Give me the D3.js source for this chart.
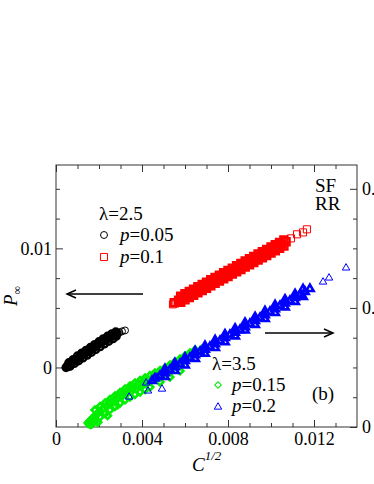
<!DOCTYPE html>
<html>
<head>
<meta charset="utf-8">
<script src="https://cdn.jsdelivr.net/npm/d3@7"></script>
<style>
  body { margin: 0; background: #fff; }
  svg { display: block; }
  text { font-family: "Liberation Serif", "DejaVu Serif", serif; fill: #000; }
</style>
</head>
<body>
<script>
// ---- data ----
// lambda = 2.5, left axis; the dense part of each run and its few loose points
var blackDense = [
  [0.00047,0.00000],[0.00052,0.00008],[0.00056,0.00017],[0.00064,0.00029],[0.00074,0.00042],
  [0.00084,0.00054],[0.00093,0.00065],[0.00102,0.00076],[0.00112,0.00088],[0.00121,0.00100],
  [0.00130,0.00111],[0.00140,0.00123],[0.00149,0.00134],[0.00158,0.00146],[0.00167,0.00157],
  [0.00177,0.00169],[0.00186,0.00181],[0.00195,0.00193],[0.00205,0.00203],[0.00214,0.00214],
  [0.00223,0.00224],[0.00233,0.00234],[0.00242,0.00244],[0.00251,0.00253],[0.00260,0.00262],
  [0.00268,0.00270],[0.00276,0.00278],[0.00284,0.00286],
  [0.00060,0.00040],[0.00080,0.00066],[0.00100,0.00096],[0.00120,0.00120],[0.00140,0.00144],
  [0.00160,0.00168],[0.00180,0.00192],[0.00200,0.00216],[0.00220,0.00240],[0.00240,0.00262],
  [0.00260,0.00282],[0.00278,0.00298],
  [0.00065,0.00010],[0.00085,0.00034],[0.00105,0.00056],[0.00125,0.00080],[0.00145,0.00104],
  [0.00165,0.00128],[0.00185,0.00152],[0.00205,0.00175],[0.00225,0.00198],[0.00245,0.00220],
  [0.00265,0.00242],[0.00280,0.00262]
];
var blackSparse = [[0.00295,0.00294],[0.00307,0.00303],[0.00321,0.00311]];

var redDense = [
  [0.00550,0.00544],[0.00570,0.00564],[0.00590,0.00583],[0.00610,0.00603],
  [0.00630,0.00623],[0.00650,0.00642],[0.00670,0.00662],[0.00690,0.00682],[0.00710,0.00701],
  [0.00730,0.00721],[0.00750,0.00741],[0.00770,0.00760],[0.00790,0.00780],[0.00810,0.00800],
  [0.00830,0.00819],[0.00850,0.00839],[0.00870,0.00859],[0.00890,0.00878],[0.00910,0.00898],
  [0.00930,0.00918],[0.00950,0.00937],[0.00970,0.00957],[0.00990,0.00977],[0.01010,0.00996],
  [0.01030,0.01016],[0.01050,0.01036],[0.01070,0.01055],
  [0.00580,0.00598],[0.00620,0.00638],[0.00660,0.00677],[0.00700,0.00716],[0.00740,0.00756],
  [0.00780,0.00795],[0.00820,0.00834],[0.00860,0.00873],[0.00900,0.00913],[0.00940,0.00952],
  [0.00980,0.00991],[0.01020,0.01030],[0.01060,0.01070],
  [0.00600,0.00618],[0.00640,0.00657],[0.00680,0.00697],[0.00720,0.00736],[0.00760,0.00775],
  [0.00800,0.00814],[0.00840,0.00854],[0.00880,0.00893],[0.00920,0.00932],[0.00960,0.00972],
  [0.01000,0.01011],[0.01040,0.01050],
  [0.00580,0.00548],[0.00620,0.00588],[0.00660,0.00627],[0.00700,0.00666],[0.00740,0.00706],
  [0.00780,0.00745],[0.00820,0.00784],[0.00860,0.00823],[0.00900,0.00863],[0.00940,0.00902],
  [0.00980,0.00941],[0.01020,0.00980],[0.01060,0.01020],
  [0.00600,0.00568],[0.00640,0.00607],[0.00680,0.00647],[0.00720,0.00686],[0.00760,0.00725],
  [0.00800,0.00764],[0.00840,0.00804],[0.00880,0.00843],[0.00920,0.00882],[0.00960,0.00922],
  [0.01000,0.00961],[0.01040,0.01000]
];
var redSparse = [
  [0.00544,0.00530],[0.00560,0.00548],
  [0.01093,0.01084],[0.01121,0.01118],[0.01149,0.01134],[0.01167,0.01160]
];

// lambda = 3.5, right axis
var greenDense = [
  [0.00149,0.0034],[0.00167,0.0067],[0.00186,0.0101],[0.00205,0.0134],[0.00233,0.0176],
  [0.00260,0.0218],[0.00288,0.0252],[0.00316,0.0286],[0.00344,0.0319],[0.00372,0.0345],
  [0.00400,0.0370],[0.00428,0.0395],[0.00465,0.0429],[0.00502,0.0462],[0.00540,0.0504],
  [0.00577,0.0546],[0.00614,0.0588],[0.00651,0.0630],[0.00679,0.0655],
  [0.00158,0.0050],[0.00176,0.0084],[0.00195,0.0117],[0.00219,0.0155],[0.00246,0.0197],
  [0.00274,0.0235],[0.00302,0.0269],[0.00330,0.0302],[0.00358,0.0332],[0.00386,0.0357],
  [0.00414,0.0382],[0.00446,0.0412],[0.00484,0.0445],[0.00521,0.0483],[0.00558,0.0525],
  [0.00596,0.0567],[0.00633,0.0609],
  [0.00181,0.0143],[0.00228,0.0202],[0.00274,0.0261],[0.00321,0.0319],[0.00367,0.0370],
  [0.00414,0.0412],[0.00460,0.0454],[0.00507,0.0496],[0.00553,0.0546],[0.00600,0.0597],
  [0.00647,0.0647],
  [0.00205,0.0172],[0.00251,0.0231],[0.00298,0.0290],[0.00344,0.0345],[0.00391,0.0391],
  [0.00437,0.0433],[0.00484,0.0475],[0.00530,0.0521],[0.00577,0.0571],[0.00623,0.0622],
  [0.00167,0.0025],[0.00205,0.0084],[0.00251,0.0143],[0.00298,0.0202],[0.00344,0.0252],
  [0.00391,0.0294],[0.00437,0.0336],[0.00484,0.0378],[0.00530,0.0420],[0.00577,0.0471],
  [0.00186,0.0055],[0.00228,0.0113],[0.00274,0.0172],[0.00321,0.0227],[0.00367,0.0273],
  [0.00414,0.0315],[0.00160,0.0020],[0.00195,0.0040],[0.00240,0.0095]
];
var greenSparse = [[0.00274,0.0168],[0.00288,0.0176],[0.00150,0.0020]];

var blueDense = [
  [0.00447,0.0387],[0.00484,0.0429],[0.00530,0.0479],[0.00577,0.0529],[0.00623,0.0580],
  [0.00670,0.0630],[0.00716,0.0672],[0.00763,0.0723],[0.00809,0.0773],[0.00856,0.0815],
  [0.00902,0.0866],[0.00949,0.0916],[0.00995,0.0966],[0.01042,0.1017],[0.01088,0.1059],
  [0.01135,0.1109],[0.01181,0.1160],
  [0.00460,0.0408],[0.00507,0.0454],[0.00553,0.0504],[0.00600,0.0555],[0.00647,0.0605],
  [0.00693,0.0651],[0.00740,0.0697],[0.00786,0.0748],[0.00833,0.0794],[0.00879,0.0840],
  [0.00926,0.0891],[0.00972,0.0941],[0.01019,0.0991],[0.01065,0.1038],[0.01112,0.1084],
  [0.01158,0.1135],
  [0.00507,0.0485],[0.00553,0.0536],[0.00600,0.0582],[0.00647,0.0637],[0.00693,0.0680],
  [0.00740,0.0729],[0.00786,0.0777],[0.00833,0.0826],[0.00879,0.0875],[0.00926,0.0923],
  [0.00972,0.0972],[0.01019,0.1023],[0.01065,0.1070],[0.01112,0.1116],[0.01149,0.1157],
  [0.00507,0.0421],[0.00553,0.0472],[0.00600,0.0518],[0.00647,0.0573],[0.00693,0.0616],
  [0.00740,0.0665],[0.00786,0.0713],[0.00833,0.0762],[0.00879,0.0811],[0.00926,0.0859],
  [0.00972,0.0908],[0.01019,0.0959],[0.01065,0.1006],[0.01112,0.1052],[0.01149,0.1093]
];
var blueSparse = [
  [0.00340,0.0252],[0.00419,0.0370],[0.00428,0.0303],[0.00470,0.0420],[0.00493,0.0319],
  [0.01242,0.1218],[0.01270,0.1252],[0.01349,0.1336]
];

var xMajor = [0, 0.004, 0.008, 0.012];
var xLabels = ["0", "0.004", "0.008", "0.012"];
var xMinor = [0.001, 0.002, 0.003, 0.005, 0.006, 0.007, 0.009, 0.010, 0.011, 0.013];
var yLeftMajor = [0, 0.01];
var yLeftLabels = ["0", "0.01"];
var yLeftMinor = [-0.0025, 0.0025, 0.005, 0.0075, 0.0125, 0.015];
var yRightMajor = [0, 0.1, 0.2];
var yRightLabels = ["0", "0.1", "0.2"];
var yRightMinor = [0.025, 0.05, 0.075, 0.125, 0.15, 0.175];

// ---- layout ----
var w = 374, h = 484;
var frame = { left: 56, right: 357, top: 165, bottom: 427 };
var axisColor = "#333";

var xScale = d3.scaleLinear().domain([0, 0.014]).range([frame.left, frame.right]);
var yLeft = d3.scaleLinear().domain([-0.005, 0.017]).range([frame.bottom, frame.top]);
var yRight = d3.scaleLinear().domain([0, 0.22]).range([frame.bottom, frame.top]);

var svg = d3.select("body").append("svg")
  .attr("width", w)
  .attr("height", h);

svg.append("rect").attr("width", w).attr("height", h).attr("fill", "#fff");

// axes, ticks pointing inward
function styleAxis(g) {
  g.select(".domain").remove();
  g.selectAll(".tick line").attr("stroke", axisColor);
  g.selectAll(".tick text")
    .style("font-family", "'Liberation Serif', serif")
    .style("font-size", "18px")
    .attr("fill", "#000");
}

svg.append("g").attr("transform", "translate(0," + frame.bottom + ")")
  .call(d3.axisBottom(xScale).tickValues(xMajor).tickSizeInner(-7).tickSizeOuter(0)
    .tickPadding(5).tickFormat(function(d, i) { return xLabels[i]; }))
  .call(styleAxis);
svg.append("g").attr("transform", "translate(0," + frame.bottom + ")")
  .call(d3.axisBottom(xScale).tickValues(xMinor).tickSizeInner(-4).tickSizeOuter(0).tickFormat(""))
  .call(styleAxis);
svg.append("g").attr("transform", "translate(0," + frame.top + ")")
  .call(d3.axisTop(xScale).tickValues(xMajor).tickSizeInner(-7).tickSizeOuter(0).tickFormat(""))
  .call(styleAxis);
svg.append("g").attr("transform", "translate(0," + frame.top + ")")
  .call(d3.axisTop(xScale).tickValues(xMinor).tickSizeInner(-4).tickSizeOuter(0).tickFormat(""))
  .call(styleAxis);

svg.append("g").attr("transform", "translate(" + frame.left + ",0)")
  .call(d3.axisLeft(yLeft).tickValues(yLeftMajor).tickSizeInner(-7).tickSizeOuter(0)
    .tickPadding(4).tickFormat(function(d, i) { return yLeftLabels[i]; }))
  .call(styleAxis);
svg.append("g").attr("transform", "translate(" + frame.left + ",0)")
  .call(d3.axisLeft(yLeft).tickValues(yLeftMinor).tickSizeInner(-4).tickSizeOuter(0).tickFormat(""))
  .call(styleAxis);

svg.append("g").attr("transform", "translate(" + frame.right + ",0)")
  .call(d3.axisRight(yRight).tickValues(yRightMajor).tickSizeInner(-7).tickSizeOuter(0)
    .tickPadding(5).tickFormat(function(d, i) { return yRightLabels[i]; }))
  .call(styleAxis);
svg.append("g").attr("transform", "translate(" + frame.right + ",0)")
  .call(d3.axisRight(yRight).tickValues(yRightMinor).tickSizeInner(-4).tickSizeOuter(0).tickFormat(""))
  .call(styleAxis);

svg.append("rect")
  .attr("x", frame.left).attr("y", frame.top)
  .attr("width", frame.right - frame.left).attr("height", frame.bottom - frame.top)
  .attr("fill", "none").attr("stroke", axisColor).attr("stroke-width", 1);

// ---- markers ----
var circleSym = d3.symbol().type(d3.symbolCircle).size(38)();
var squareSym = d3.symbol().type(d3.symbolSquare).size(50)();
var diamondSym = d3.symbol().type(d3.symbolSquare).size(22)();
var triangleSym = d3.symbol().type(d3.symbolTriangle).size(24)();

function drawSeries(data, yScale, path, color, rot, sw) {
  svg.append("g").selectAll("path")
    .data(data)
    .enter()
    .append("path")
    .attr("d", path)
    .attr("transform", function(d) {
      return "translate(" + xScale(d[0]) + "," + yScale(d[1]) + ")" + (rot ? " rotate(45)" : "");
    })
    .attr("fill", "none")
    .attr("stroke", color)
    .attr("stroke-width", sw);
}

// the dense runs are thousands of overlapping markers: heavier strokes stand in for that
drawSeries(blackDense, yLeft, circleSym, "#000", false, 2.4);
drawSeries(blackSparse, yLeft, circleSym, "#000", false, 1);
drawSeries(redDense, yLeft, squareSym, "#ff0000", false, 2.4);
drawSeries(redSparse, yLeft, squareSym, "#ff0000", false, 1);
drawSeries(greenDense, yRight, diamondSym, "#00ee00", true, 2.6);
drawSeries(greenSparse, yRight, diamondSym, "#00ee00", true, 1);
drawSeries(blueDense, yRight, triangleSym, "#0000ff", false, 2.6);
drawSeries(blueSparse, yRight, triangleSym, "#0000ff", false, 1);

// ---- arrows ----
function arrow(x1, x2, y) {
  var dir = x2 > x1 ? 1 : -1;
  svg.append("line").attr("x1", x1).attr("x2", x2).attr("y1", y).attr("y2", y)
    .attr("stroke", "#000").attr("stroke-width", 1.5);
  svg.append("path")
    .attr("d", "M" + (x2 - dir * 9) + "," + (y - 4) + "L" + x2 + "," + y + "L" + (x2 - dir * 9) + "," + (y + 4))
    .attr("fill", "none").attr("stroke", "#000").attr("stroke-width", 1.5);
}
arrow(143, 67, 294);
arrow(265, 333, 333);

// ---- legends and labels ----
function legendText(x, y, value) {
  var t = svg.append("text").attr("x", x).attr("y", y).style("font-size", "19px");
  t.append("tspan").style("font-style", "italic").text("p");
  t.append("tspan").text("=" + value);
}

svg.append("text").attr("x", 99).attr("y", 220).style("font-size", "19px").text("λ=2.5");
svg.append("path").attr("d", circleSym).attr("transform", "translate(104,235)")
  .attr("fill", "none").attr("stroke", "#000");
legendText(120, 241, "0.05");
svg.append("path").attr("d", squareSym).attr("transform", "translate(104,257)")
  .attr("fill", "none").attr("stroke", "#ff0000");
legendText(120, 263, "0.1");

svg.append("text").attr("x", 212).attr("y", 370).style("font-size", "19px").text("λ=3.5");
svg.append("path").attr("d", diamondSym).attr("transform", "translate(218,385) rotate(45)")
  .attr("fill", "none").attr("stroke", "#00ee00");
legendText(232, 391, "0.15");
svg.append("path").attr("d", triangleSym).attr("transform", "translate(218,407)")
  .attr("fill", "none").attr("stroke", "#0000ff");
legendText(232, 412, "0.2");

svg.append("text").attr("x", 315).attr("y", 192).style("font-size", "19px").text("SF");
svg.append("text").attr("x", 315).attr("y", 210).style("font-size", "19px").text("RR");
svg.append("text").attr("x", 312).attr("y", 400).style("font-size", "19px").text("(b)");

// axis titles
var xt = svg.append("text").attr("x", 192).attr("y", 471).style("font-size", "19px");
xt.append("tspan").style("font-style", "italic").text("C");
xt.append("tspan").attr("dy", -11).style("font-size", "13px").style("font-style", "italic").text("1/2");

var yt = svg.append("text").attr("transform", "translate(17,296) rotate(-90)")
  .attr("text-anchor", "middle").style("font-size", "19px");
yt.append("tspan").style("font-style", "italic").text("P");
yt.append("tspan").attr("dy", 4).style("font-size", "12px").text("∞");
</script>
</body>
</html>
